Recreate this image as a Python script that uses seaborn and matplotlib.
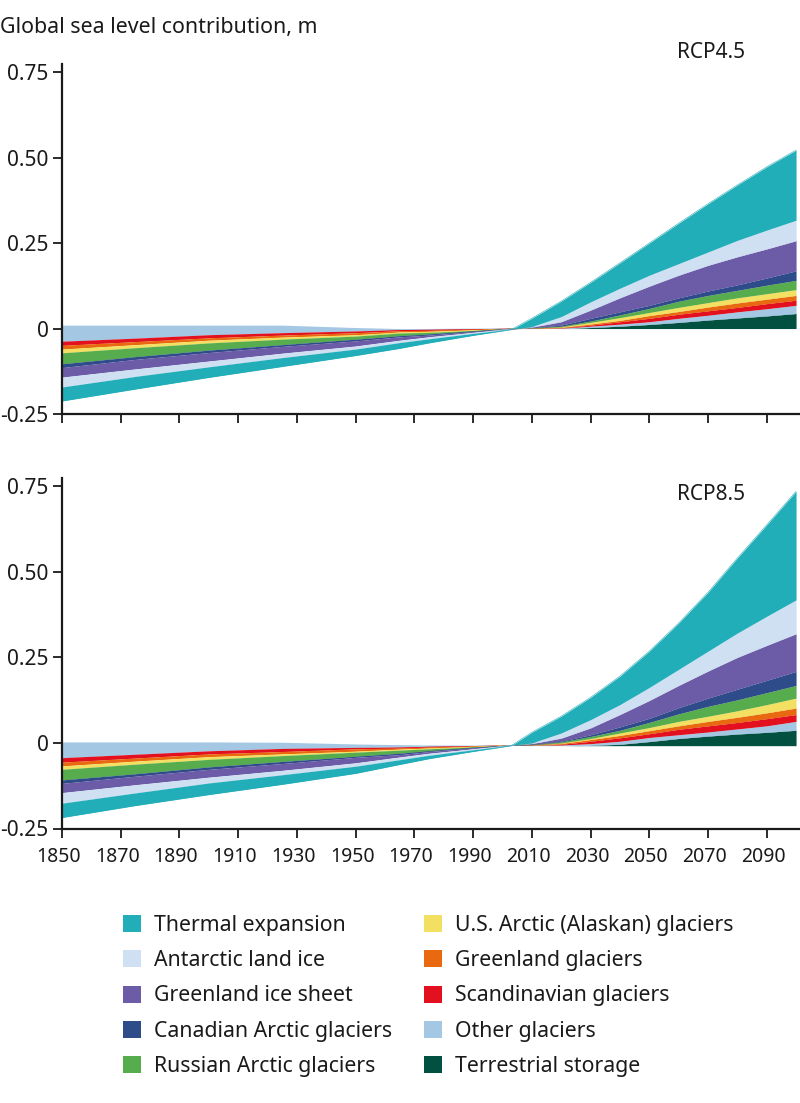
import matplotlib
matplotlib.use("Agg")
import matplotlib.pyplot as plt
from matplotlib.patches import Patch
from matplotlib.transforms import ScaledTranslation
import numpy as np
import seaborn as sns

sns.set_theme(style="white")
plt.rcParams['font.family'] = ['Noto Sans', 'DejaVu Sans']

years = [1850, 1875, 1900, 1925, 1950, 1965, 1975, 1990, 2003, 2010, 2020, 2030, 2040, 2050, 2060, 2070, 2080, 2090, 2100]
tick_years = list(range(1850, 2091, 20))
y_ticks = [-0.25, 0, 0.25, 0.5, 0.75]
y_labels = ["-0.25", "0", "0.25", "0.50", "0.75"]

names = ["Thermal expansion", "Antarctic land ice", "Greenland ice sheet", "Canadian Arctic glaciers",
         "Russian Arctic glaciers", "U.S. Arctic (Alaskan) glaciers", "Greenland glaciers",
         "Scandinavian glaciers", "Other glaciers", "Terrestrial storage"]
colors = ["#22AEB8", "#CFE0F3", "#6C5BA6", "#2F4C8A", "#57AC4E", "#F3DF62", "#E8690F", "#E3101F", "#A4C8E4", "#02503F"]

# outer edge of each band, measured from the zero line (m)
rcp45 = {
    "Thermal expansion":   [-.212, -.177, -.143, -.111, -.079, -.058, -.042, -.020, -.003, .030, .080, .135, .192, .250, .308, .365, .420, .473, .522],
    "Antarctic land ice":  [-.171, -.140, -.112, -.085, -.060, -.041, -.030, -.014, -.002, .006, .035, .078, .118, .156, .190, .224, .258, .288, .317],
    "Greenland ice sheet": [-.142, -.118, -.095, -.072, -.051, -.034, -.024, -.011, -.002, .004, .020, .054, .090, .124, .156, .185, .210, .233, .257],
    "Canadian Arctic glaciers": [-.114, -.090, -.070, -.052, -.036, -.024, -.019, -.009, -.001, .002, .010, .030, .049, .068, .090, .110, .128, .148, .169],
    "Russian Arctic glaciers":  [-.103, -.082, -.063, -.047, -.031, -.021, -.016, -.008, -.001, .002, .007, .022, .040, .059, .080, .097, .112, .127, .141],
    "U.S. Arctic (Alaskan) glaciers": [-.071, -.056, -.042, -.031, -.022, -.013, -.011, -.006, -.001, .001, .005, .018, .032, .047, .062, .076, .090, .102, .114],
    "Greenland glaciers":  [-.060, -.047, -.034, -.025, -.018, -.010, -.008, -.004, -.001, .001, .003, .013, .024, .038, .050, .063, .075, .086, .097],
    "Scandinavian glaciers": [-.049, -.038, -.027, -.019, -.012, -.006, -.005, -.003, -.001, .001, .002, .010, .020, .030, .042, .052, .062, .073, .083],
    "Other glaciers":      [-.037, -.028, -.018, -.012, -.007, -.003, -.002, -.001, 0, 0, .001, .007, .013, .020, .030, .039, .049, .058, .068],
    "Terrestrial storage": [.010, .010, .010, .010, .003, 0, 0, 0, 0, 0, 0, .003, .007, .012, .018, .025, .031, .037, .044],
}
floor45 = [.010, .010, .010, .010, .003, 0, 0, 0, 0, 0, 0, 0, 0, 0, 0, 0, 0, 0, 0]

rcp85 = {
    "Thermal expansion":   [-.218, -.183, -.151, -.121, -.089, -.063, -.046, -.025, -.008, .031, .078, .133, .195, .268, .350, .440, .540, .637, .735],
    "Antarctic land ice":  [-.176, -.146, -.117, -.093, -.068, -.049, -.036, -.020, -.007, 0, .029, .068, .112, .162, .215, .268, .321, .370, .418],
    "Greenland ice sheet": [-.145, -.122, -.100, -.080, -.058, -.041, -.030, -.017, -.007, -.002, .014, .044, .083, .124, .168, .210, .250, .285, .319],
    "Canadian Arctic glaciers": [-.118, -.097, -.077, -.060, -.042, -.034, -.025, -.015, -.007, -.004, .005, .024, .047, .072, .103, .131, .157, .183, .209],
    "Russian Arctic glaciers":  [-.108, -.090, -.070, -.054, -.039, -.030, -.023, -.014, -.007, -.005, .003, .019, .037, .060, .085, .107, .126, .147, .168],
    "U.S. Arctic (Alaskan) glaciers": [-.077, -.062, -.048, -.037, -.027, -.021, -.017, -.012, -.007, -.006, 0, .013, .029, .045, .063, .078, .094, .112, .131],
    "Greenland glaciers":  [-.067, -.053, -.040, -.032, -.024, -.018, -.015, -.011, -.007, -.006, -.002, .010, .022, .036, .050, .063, .075, .088, .102],
    "Scandinavian glaciers": [-.056, -.044, -.032, -.025, -.017, -.015, -.012, -.010, -.007, -.007, -.004, .005, .015, .027, .040, .050, .060, .071, .083],
    "Other glaciers":      [-.043, -.033, -.023, -.016, -.013, -.012, -.010, -.009, -.007, -.007, -.006, -.002, .005, .016, .024, .032, .041, .050, .063],
    "Terrestrial storage": [.003, .003, .003, .002, -.003, -.005, -.006, -.007, -.007, -.008, -.008, -.007, -.004, .004, .013, .020, .026, .031, .037],
}
floor85 = [.003, .003, .003, .002, -.003, -.005, -.006, -.007, -.007, -.008, -.008, -.008, -.008, -.008, -.008, -.008, -.008, -.008, -.008]

W, H = 800, 1103
fig = plt.figure(figsize=(W / 100, H / 100), dpi=100, facecolor="white")

def make_ax(top_px, bottom_px):
    return fig.add_axes([62 / W, 1 - bottom_px / H, (799 - 62) / W, (bottom_px - top_px) / H])

def draw(ax, data, floor):
    x = np.array(years)
    lower = np.array(floor, dtype=float)
    for name, col in reversed(list(zip(names, colors))):
        edge = np.array(data[name], dtype=float)
        ax.fill_between(x, lower, edge, color=col, linewidth=0, zorder=2)
        keep = np.abs(edge - lower) > 1e-6
        sns.lineplot(x=x[keep], y=edge[keep], ax=ax, color=col, linewidth=0.4, legend=False, zorder=2,
                     estimator=None, sort=False)
        lower = edge
    ax.set_xlim(1850, 2101)
    ax.set_ylim(-0.25, 0.774)
    ax.set_xticks(tick_years)
    ax.set_yticks(y_ticks)
    ax.set_yticklabels(y_labels)
    ax.tick_params(axis="both", which="major", direction="out", length=6.5, width=1.3,
                   color="#1a1a1a", labelcolor="#1a1a1a", labelsize=15, bottom=True, left=True, pad=3)
    sns.despine(ax=ax)
    for s in ("left", "bottom"):
        ax.spines[s].set_linewidth(1.6)
        ax.spines[s].set_color("#1a1a1a")
    ax.patch.set_alpha(0)

ax1 = make_ax(64, 414)
ax2 = make_ax(478, 828.5)
draw(ax1, rcp45, floor45)
draw(ax2, rcp85, floor85)
ax1.set_xticklabels([])
ax2.set_xticklabels([str(y) for y in tick_years])
ax2.tick_params(axis="x", pad=7, labelsize=14)
shift = ScaledTranslation(-3.5 / 100, 0, fig.dpi_scale_trans)
for lab in ax2.get_xticklabels():
    lab.set_transform(lab.get_transform() + shift)

fig.text(0 / W, 1 - 28 / H, "Global sea level contribution, m", fontsize=15.4, color="#1a1a1a", va="center", ha="left")
fig.text(711 / W, 1 - 53 / H, "RCP4.5", fontsize=15, color="#1a1a1a", va="center", ha="center")
fig.text(711 / W, 1 - 495 / H, "RCP8.5", fontsize=15, color="#1a1a1a", va="center", ha="center")

handles = [Patch(facecolor=c, edgecolor="none", label=n) for n, c in zip(names, colors)]
leg = fig.legend(handles=handles, ncol=2, frameon=False, fontsize=15.3, loc="upper left",
                 bbox_to_anchor=(123 / W, 1 - 914.5 / H), borderaxespad=0, borderpad=0,
                 handlelength=0.85, handleheight=0.85, handletextpad=0.62, labelspacing=0.68,
                 columnspacing=1.5, labelcolor="#1a1a1a")

fig.savefig("out.png", dpi=100, facecolor="white")
